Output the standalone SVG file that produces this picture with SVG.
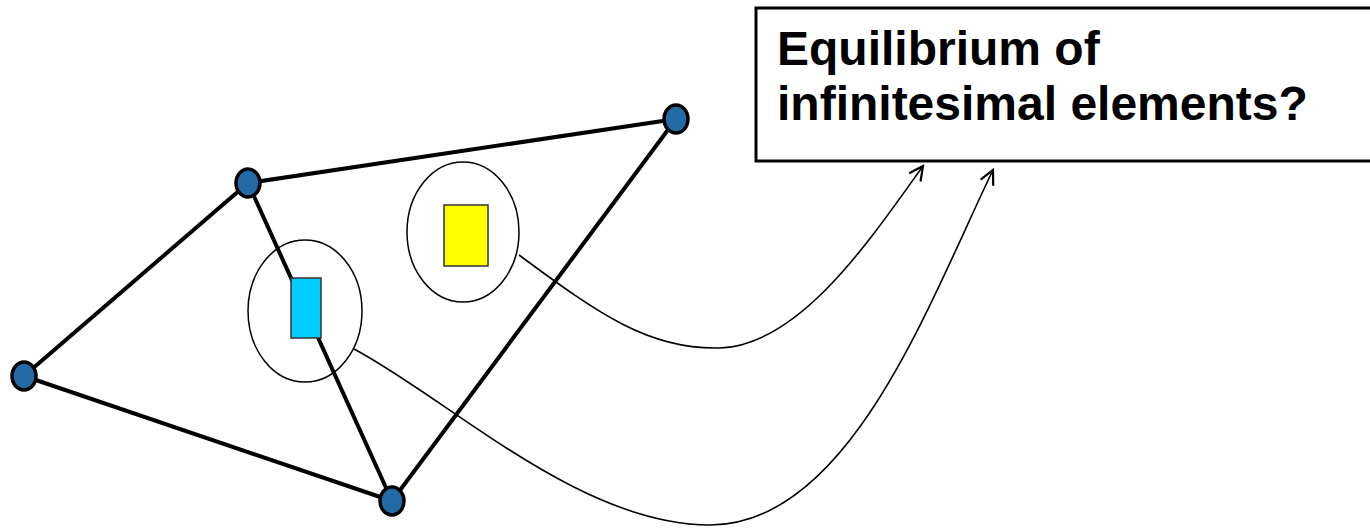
<svg xmlns="http://www.w3.org/2000/svg" width="1370" height="529" viewBox="0 0 1370 529">
<style>
.edge{stroke:#000;stroke-width:4;fill:none;stroke-linecap:round}
.node{fill:#236BA6;stroke:#000;stroke-width:3.5}
.ring{fill:none;stroke:#000;stroke-width:1.5}
.conn{fill:none;stroke:#000;stroke-width:1.6}
.label{font-family:"Liberation Sans",Arial,sans-serif;font-weight:bold;font-size:48px;fill:#000}
</style>
<defs>
<marker id="arr" viewBox="0 0 20 20" refX="18" refY="10" markerWidth="20" markerHeight="20" markerUnits="userSpaceOnUse" orient="auto">
<polyline points="4,3 18,10 4,17" fill="none" stroke="#000" stroke-width="2.2"/>
</marker>
</defs>
<g id="frame-edges">
<line class="edge" x1="248" y1="183" x2="676" y2="119"/>
<line class="edge" x1="248" y1="183" x2="24" y2="376"/>
<line class="edge" x1="24" y1="376" x2="392" y2="501"/>
<line class="edge" x1="676" y1="119" x2="392" y2="501"/>
<line class="edge" x1="248" y1="183" x2="392" y2="501"/>
</g>
<g id="n1"><ellipse class="node" cx="248" cy="183" rx="12" ry="14"/></g>
<g id="n2"><ellipse class="node" cx="676" cy="119" rx="12" ry="14"/></g>
<g id="n3"><ellipse class="node" cx="24" cy="376" rx="12" ry="14"/></g>
<g id="n4"><ellipse class="node" cx="392" cy="501" rx="12" ry="14"/></g>
<g id="element-cyan">
<ellipse class="ring" cx="305" cy="311" rx="57" ry="71"/>
<rect x="291" y="278" width="30" height="60" fill="#00CCFF" stroke="#333" stroke-width="1.5"/>
</g>
<g id="element-yellow">
<ellipse class="ring" cx="463" cy="232" rx="56" ry="70"/>
<rect x="444" y="205" width="44" height="61" fill="#FFFF00" stroke="#333" stroke-width="1.5"/>
</g>
<g id="connectors">
<path class="conn" d="M 519 255 C 600 315, 650 350, 720 348 C 800 345, 870 240, 923 166" marker-end="url(#arr)"/>
<path class="conn" d="M 354 349 C 450 400, 580 525, 710 525 C 850 525, 930 300, 993 170" marker-end="url(#arr)"/>
</g>
<g id="question">
<rect x="756" y="8" width="620" height="153" fill="#fff" stroke="#000" stroke-width="3"/>
<text class="label" x="777" y="65">Equilibrium of</text>
<text class="label" x="777" y="120">infinitesimal elements?</text>
</g>
</svg>
